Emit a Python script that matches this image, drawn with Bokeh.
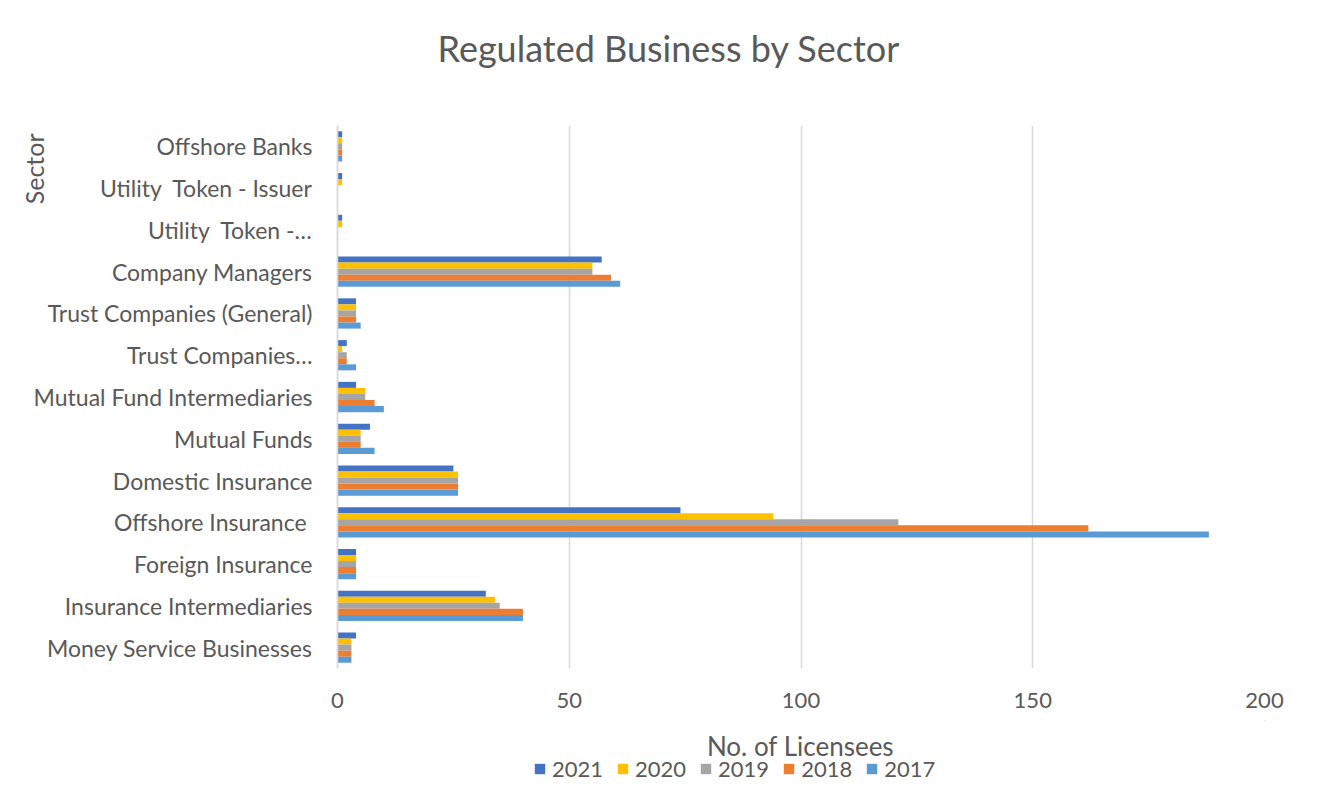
from bokeh.plotting import figure
from bokeh.models import (Range1d, FactorRange, Legend, LegendItem, Title, Label,
                          Span, ColumnDataSource)
from bokeh.layouts import column
from bokeh.core.properties import value
from bokeh.transform import dodge
from bokeh.embed import file_html
from bokeh.resources import INLINE
import math

categories = [
    "Money Service Businesses",
    "Insurance Intermediaries",
    "Foreign Insurance",
    "Offshore Insurance ",
    "Domestic Insurance",
    "Mutual Funds",
    "Mutual Fund Intermediaries",
    "Trust Companies\u2026",
    "Trust Companies (General)",
    "Company Managers",
    "Utility\u00a0 Token -\u2026",
    "Utility\u00a0 Token - Issuer",
    "Offshore Banks",
]
years = ["2021", "2020", "2019", "2018", "2017"]
v2021 = [4, 32, 4, 74, 25, 7, 4, 2, 4, 57, 1, 1, 1]
v2020 = [3, 34, 4, 94, 26, 5, 6, 1, 4, 55, 1, 1, 1]
v2019 = [3, 35, 4, 121, 26, 5, 6, 2, 4, 55, 0, 0, 1]
v2018 = [3, 40, 4, 162, 26, 5, 8, 2, 4, 59, 0, 0, 1]
v2017 = [3, 40, 4, 188, 26, 8, 10, 4, 5, 61, 0, 0, 1]
x_ticks = [0, 50, 100, 150, 200]
colors = ["#4472C4", "#FFC000", "#A5A5A5", "#ED7D31", "#5B9BD5"]

src = ColumnDataSource(dict(cat=categories, y2021=v2021, y2020=v2020,
                            y2019=v2019, y2018=v2018, y2017=v2017))

FONT = "Lato"
GREY = "#595959"

# frame spans the full left side so category labels can be drawn as text glyphs
X_MAX = 200
x_start = -337 * X_MAX / 927.0

p = figure(width=1311, height=720, output_backend="svg", toolbar_location=None,
           x_range=Range1d(x_start, X_MAX),
           y_range=FactorRange(*categories, range_padding=0),
           min_border_left=0, min_border_right=47, min_border_top=125,
           min_border_bottom=52, title=None)

p.add_layout(Title(text=" ", text_font_size="35px"), "above")
p.add_layout(Title(text="Regulated Business by Sector", align="left", offset=437,
                   text_font=FONT, text_font_size="36px", text_font_style="normal",
                   text_color=GREY), "above")

bar_h = 0.145
offsets = [2 * bar_h, bar_h, 0, -bar_h, -2 * bar_h]
renderers = []
for yr, col, off in zip(years, colors, offsets):
    r = p.hbar(y=dodge("cat", off, range=p.y_range), right="y" + yr, left=0,
               height=bar_h, source=src, color=col, line_color=None)
    renderers.append(r)

p.text(x=0, y="cat", text="cat", source=src, x_offset=-25,
       text_align="right", text_baseline="middle",
       text_font=value(FONT), text_font_size="23px", text_color=GREY)

p.add_layout(Span(location=0, dimension="height", line_color="#D9D9D9", line_width=1.5))

p.xaxis.ticker = x_ticks
p.xgrid.grid_line_color = "#D9D9D9"
p.xgrid.grid_line_width = 1.5
p.ygrid.grid_line_color = None
p.yaxis.visible = False
p.outline_line_color = None

p.xaxis.major_tick_line_color = None
p.xaxis.minor_tick_line_color = None
p.xaxis.axis_line_color = None
p.xaxis.major_label_text_font = FONT
p.xaxis.major_label_text_font_size = "22px"
p.xaxis.major_label_text_color = GREY
p.xaxis.major_label_standoff = 18

p.add_layout(Label(x=33, y=535, x_units="screen", y_units="screen",
                   text="Sector", angle=math.pi / 2, text_font=FONT,
                   text_font_size="25px", text_color=GREY,
                   text_align="right", text_baseline="middle"))

# strip below: x-axis title and legend
lg = figure(width=1311, height=62, output_backend="svg", toolbar_location=None,
            x_range=Range1d(0, 1), y_range=Range1d(0, 1), min_border=0)
lg.axis.visible = False
lg.grid.grid_line_color = None
lg.outline_line_color = None

lg.add_layout(Label(x=800, y=37, x_units="screen", y_units="screen",
                    text="No. of Licensees", text_font=FONT, text_font_size="26px",
                    text_color=GREY, text_align="center", text_baseline="middle"))

# legend-only helper glyphs, placed far outside the visible range of this strip
lg_renderers = [lg.hbar(y=[10], left=[10], right=[11], height=0.1, color=col,
                        line_color=None) for col in colors]
legend = Legend(items=[LegendItem(label=yr, renderers=[r]) for yr, r in zip(years, lg_renderers)],
                orientation="horizontal", location=(533, 0),
                label_text_font=FONT, label_text_font_size="22px",
                label_text_color=GREY, glyph_width=13, glyph_height=13,
                spacing=13, label_standoff=6, padding=0, margin=0,
                border_line_color=None, background_fill_alpha=0)
lg.add_layout(legend, "center")

layout = column(p, lg, spacing=0)
open("out.html", "w").write(file_html(layout, INLINE))
